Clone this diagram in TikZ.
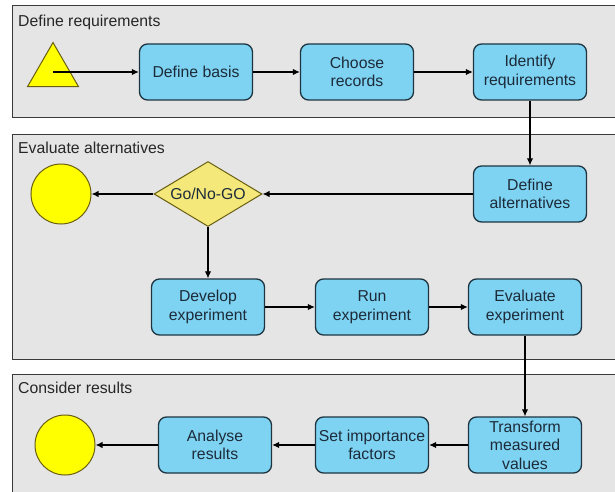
\documentclass[tikz,border=0pt]{standalone}
\usepackage{fontspec}
\setmainfont{Liberation Sans}
\usetikzlibrary{shapes.geometric,arrows.meta}
\definecolor{lanefill}{HTML}{E5E5E5}
\definecolor{laneline}{HTML}{3A3A3A}
\definecolor{boxfill}{HTML}{7FD3F2}
\definecolor{boxline}{HTML}{1E3440}
\definecolor{boxtext}{HTML}{1C2B3A}
\definecolor{yel}{HTML}{FFFF00}
\definecolor{diafill}{HTML}{F4E87A}
\definecolor{olive}{HTML}{6A5E10}
\tikzset{
  lane/.style={draw=laneline, line width=1pt, fill=lanefill},
  lanelabel/.style={anchor=base west, inner sep=0pt, text=black!85, font=\fontsize{15.8}{18}\selectfont},
  stepbox/.style={draw=boxline, line width=1.3pt, fill=boxfill, rounded corners=8pt,
    minimum width=113pt, minimum height=56pt, inner sep=0pt, align=center,
    text=boxtext, font=\fontsize{15.8}{18.5}\selectfont},
  endcircle/.style={circle, draw=olive, line width=1pt, fill=yel, minimum size=60pt, inner sep=0pt},
  gate/.style={diamond, draw=olive, line width=1pt, fill=diafill, minimum width=108pt,
    minimum height=65pt, inner sep=0pt, text=boxtext, font=\fontsize{15.8}{18}\selectfont},
  flow/.style={line width=1.2pt, -{Latex[length=7pt,width=6.5pt]}},
}
\begin{document}
\begin{tikzpicture}[x=1pt,y=-1pt]
\useasboundingbox (0,0) rectangle (615,492);
\fill[white] (0,0) rectangle (615,492);
% lanes
\draw[lane] (12,6) rectangle (616,118);
\draw[lane] (12,134) rectangle (616,359);
\draw[lane] (12,374) rectangle (616,500);
\node[lanelabel] (l1) at (18,27) {Define requirements};
\node[lanelabel] (l2) at (18,153) {Evaluate alternatives};
\node[lanelabel] (l3) at (18,393) {Consider results};
% lane 1
\node[regular polygon, regular polygon sides=3, minimum size=59pt, inner sep=0pt,
  draw=olive, line width=1pt, fill=yel] (start) at (53,72) {};
\node[stepbox] (basis) at (196,72) {Define basis};
\node[stepbox] (records) at (357,72) {Choose\\records};
\node[stepbox] (ident) at (530,72) {Identify\\requirements};
% lane 2
\node[stepbox] (alts) at (530,194) {Define\\alternatives};
\node[gate] (go) at (208,194) {\makebox[0pt]{Go/No-GO}};
\node[endcircle] (end1) at (61,194) {};
\node[stepbox] (dev) at (208,307) {Develop\\experiment};
\node[stepbox] (run) at (372,307) {Run\\experiment};
\node[stepbox] (evalx) at (525,307) {Evaluate\\experiment};
% lane 3
\node[stepbox] (trans) at (525,445) {Transform\\measured\\values};
\node[stepbox] (setimp) at (372,445) {Set importance\\factors};
\node[stepbox] (anal) at (215,445) {Analyse\\results};
\node[endcircle] (end3) at (65,445) {};
% connectors
\draw[flow] (start.center) -- (basis);
\draw[flow] (basis) -- (records);
\draw[flow] (records) -- (ident);
\draw[flow] (ident) -- (alts);
\draw[flow] (alts) -- (go);
\draw[flow] (go) -- (end1);
\draw[flow] (go) -- (dev);
\draw[flow] (dev) -- (run);
\draw[flow] (run) -- (evalx);
\draw[flow] (evalx) -- (trans);
\draw[flow] (trans) -- (setimp);
\draw[flow] (setimp) -- (anal);
\draw[flow] (anal) -- (end3);
\end{tikzpicture}
\end{document}
